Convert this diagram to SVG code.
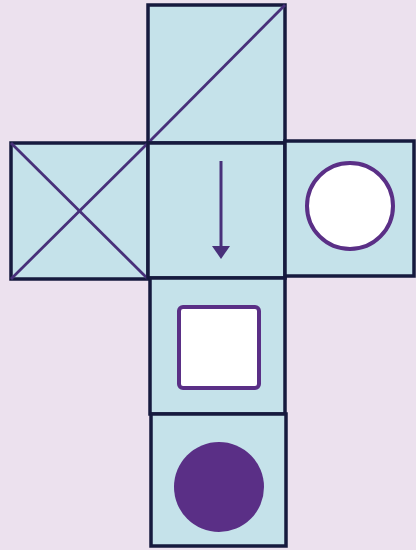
<svg xmlns="http://www.w3.org/2000/svg" width="416" height="550" viewBox="0 0 416 550">
<defs>
<style>
.face{fill:#c5e2ea;stroke:#161a3e;stroke-width:3.5}
.line{stroke:#48307a;stroke-width:2.8;fill:none}
.purple{stroke:#5a2f86;stroke-width:4}
</style>
</defs>
<rect width="416" height="550" fill="#ece1ee"/>
<g id="top">
<rect class="face" x="148" y="5" width="137" height="138"/>
<line class="line" x1="148" y1="143" x2="285" y2="5"/>
</g>
<g id="left">
<rect class="face" x="11" y="143" width="137" height="136"/>
<line class="line" x1="11" y1="143" x2="148" y2="279"/>
<line class="line" x1="11" y1="279" x2="148" y2="143"/>
</g>
<g id="center">
<rect class="face" x="148" y="143" width="137" height="135"/>
</g>
<g id="right">
<rect class="face" x="285" y="141" width="129" height="135"/>
<circle cx="350" cy="206" r="43" fill="#fff" class="purple"/>
</g>
<g id="lower">
<rect class="face" x="150" y="278" width="135" height="136"/>
<rect x="179" y="307" width="80" height="81" rx="4" fill="#fff" class="purple"/>
</g>
<g id="bottom">
<rect class="face" x="151" y="414" width="135" height="132"/>
<circle cx="219" cy="487" r="45" fill="#5a2f86"/>
</g>
<g id="connectors">
<line x1="221" y1="161" x2="221" y2="247" stroke="#48307a" stroke-width="3"/>
<path d="M212,246 L230,246 L221,259 z" fill="#48307a"/>
</g>
</svg>
